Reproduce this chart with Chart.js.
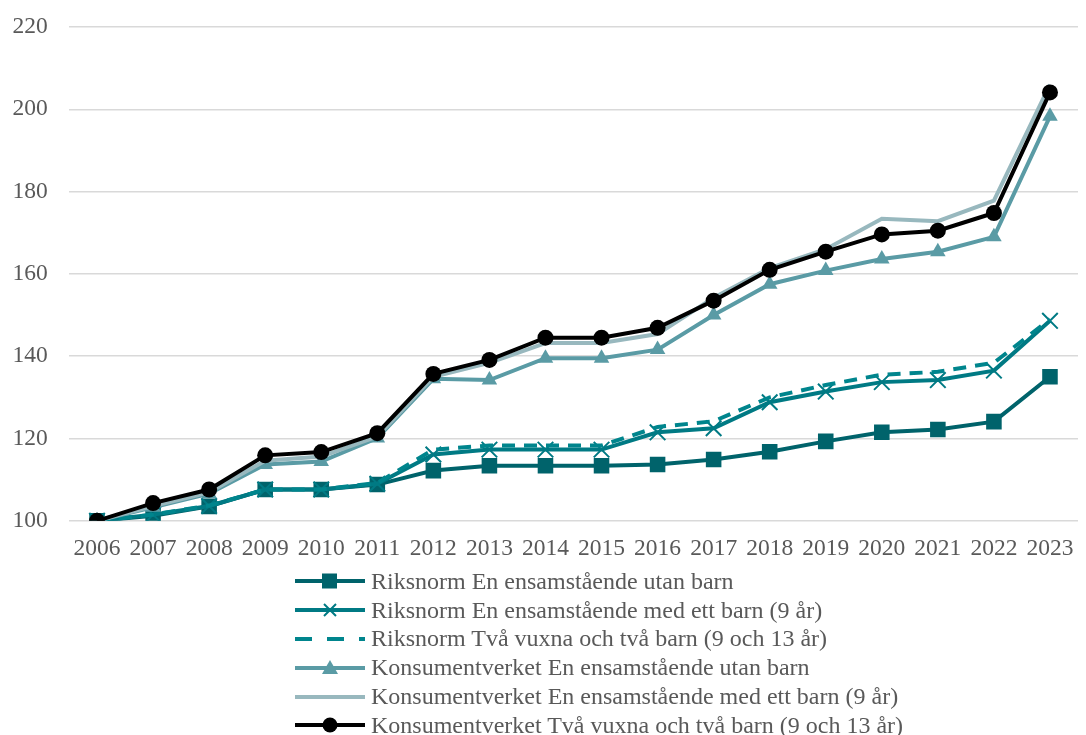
<!DOCTYPE html>
<html lang="sv">
<head>
<meta charset="utf-8">
<script src="https://cdn.jsdelivr.net/npm/chart.js@4/dist/chart.umd.min.js"></script>
<style>
  html, body { margin: 0; padding: 0; background: #fff; }
  #wrap { position: relative; width: 1086px; height: 735px; overflow: hidden; }
  #chartBox { position: absolute; left: 0; top: 0; width: 1091px; height: 575px; }
  #legend { position: absolute; left: 295px; top: 567px; font-family: "Liberation Serif", "Times New Roman", serif; font-size: 24px; color: #595959; }
  .row { height: 28.8px; display: flex; align-items: center; white-space: nowrap; }
  .row svg { width: 70px; height: 28px; margin-right: 6px; flex: none; }
</style>
</head>
<body>
<div id="wrap">
  <div id="chartBox"><canvas id="myChart"></canvas></div>
  <div id="legend"></div>
</div>
<script>
'use strict'

// DATA
var years = ['2006', '2007', '2008', '2009', '2010', '2011', '2012', '2013', '2014', '2015', '2016', '2017', '2018', '2019', '2020', '2021', '2022', '2023'];
var yTicks = [100, 120, 140, 160, 180, 200, 220];

var riksUtan = [100, 101.2, 103.5, 107.6, 107.6, 108.8, 112.2, 113.4, 113.4, 113.4, 113.7, 114.9, 116.8, 119.3, 121.5, 122.2, 124.1, 135];
var riksMed  = [100, 101.5, 103.6, 107.6, 107.6, 109, 116.1, 117.3, 117.3, 117.3, 121.5, 122.5, 128.8, 131.4, 133.7, 134.2, 136.5, 148.6];
var riksTva  = [100, 101.5, 103.7, 107.6, 107.6, 109.2, 117.3, 118.3, 118.3, 118.3, 122.8, 124.2, 130, 133, 135.5, 136.2, 138.4, 149];
var konsUtan = [100, 103.3, 106.6, 113.7, 114.4, 120.1, 134.5, 134.2, 139.5, 139.5, 141.6, 150, 157.5, 160.8, 163.6, 165.4, 169, 198.3];
var konsMed  = [100, 103.6, 106.9, 114.6, 115.6, 120.5, 135, 138.4, 143.2, 143.2, 145.4, 154.2, 161.4, 166, 173.4, 172.8, 177.8, 206];
var konsTva  = [100, 104.3, 107.6, 115.9, 116.7, 121.3, 135.7, 139.1, 144.5, 144.5, 146.9, 153.5, 161, 165.4, 169.6, 170.5, 174.8, 204.1];

var names = [
  'Riksnorm En ensamstående utan barn',
  'Riksnorm En ensamstående med ett barn (9 år)',
  'Riksnorm Två vuxna och två barn (9 och 13 år)',
  'Konsumentverket En ensamstående utan barn',
  'Konsumentverket En ensamstående med ett barn (9 år)',
  'Konsumentverket Två vuxna och två barn (9 och 13 år)'
];

var FONT = '"Liberation Serif", "Times New Roman", serif';
var TEXT = '#595959';

var styles = [
  { color: '#00636B', marker: 'rect', radius: 11, dash: [] },
  { color: '#007A84', marker: 'crossRot', radius: 11, dash: [] },
  { color: '#00858D', marker: false, radius: 0, dash: [13, 9] },
  { color: '#5A9BA5', marker: 'triangle', radius: 9, dash: [] },
  { color: '#98B8BE', marker: false, radius: 0, dash: [] },
  { color: '#000000', marker: 'circle', radius: 8, dash: [] }
];
var series = [riksUtan, riksMed, riksTva, konsUtan, konsMed, konsTva];

var datasets = series.map(function(values, i) {
  var s = styles[i];
  return {
    label: names[i],
    data: values,
    borderColor: s.color,
    backgroundColor: s.color,
    borderWidth: 4,
    borderDash: s.dash,
    pointStyle: s.marker || 'circle',
    pointRadius: s.radius,
    pointBorderWidth: s.marker === 'crossRot' ? 2 : 0,
    pointBorderColor: s.color,
    pointBackgroundColor: s.color,
    tension: 0,
    order: 5 - i
  };
});

//WYKRES
var ctx = document.getElementById('myChart').getContext('2d');
var chart = new Chart(ctx, {
  type: 'line',
  data: { labels: years, datasets: datasets },
  options: {
    responsive: true,
    maintainAspectRatio: false,
    animation: false,
    layout: { padding: { top: 27, right: 0, bottom: 6, left: 12.5 } },
    plugins: { legend: { display: false }, tooltip: { enabled: false } },
    scales: {
      x: {
        offset: true,
        grid: { display: false },
        border: { display: false },
        ticks: { color: TEXT, font: { family: FONT, size: 23.5 }, padding: 6, maxRotation: 0, autoSkip: false }
      },
      y: {
        min: 100,
        max: 220,
        afterBuildTicks: function(axis) {
          axis.ticks = yTicks.map(function(v) { return { value: v }; });
        },
        afterFit: function(axis) { axis.width = 56.5; },
        grid: { color: '#D9D9D9', lineWidth: 1.5, drawTicks: false },
        border: { display: false },
        ticks: { color: TEXT, font: { family: FONT, size: 23.5 }, padding: 0, crossAlign: 'far' }
      }
    }
  }
});

// LEGEND (html)
function markerSvg(s) {
  var c = s.color;
  var line = '<line x1="0" y1="14" x2="70" y2="14" stroke="' + c + '" stroke-width="4"' +
    (s.dash.length ? ' stroke-dasharray="17 15"' : '') + '/>';
  var m = '';
  if (s.marker === 'rect') m = '<rect x="27" y="6.5" width="15" height="15" fill="' + c + '"/>';
  if (s.marker === 'crossRot') m = '<path d="M29 8 L41 20 M41 8 L29 20" stroke="' + c + '" stroke-width="2"/>';
  if (s.marker === 'triangle') m = '<path d="M35 6 L43 20 L27 20 Z" fill="' + c + '"/>';
  if (s.marker === 'circle') m = '<circle cx="35" cy="14" r="7.5" fill="' + c + '"/>';
  return '<svg viewBox="0 0 70 28">' + line + m + '</svg>';
}

var legend = document.getElementById('legend');
names.forEach(function(name, i) {
  var row = document.createElement('div');
  row.className = 'row';
  row.innerHTML = markerSvg(styles[i]) + '<span>' + name + '</span>';
  legend.appendChild(row);
});
</script>
</body>
</html>
